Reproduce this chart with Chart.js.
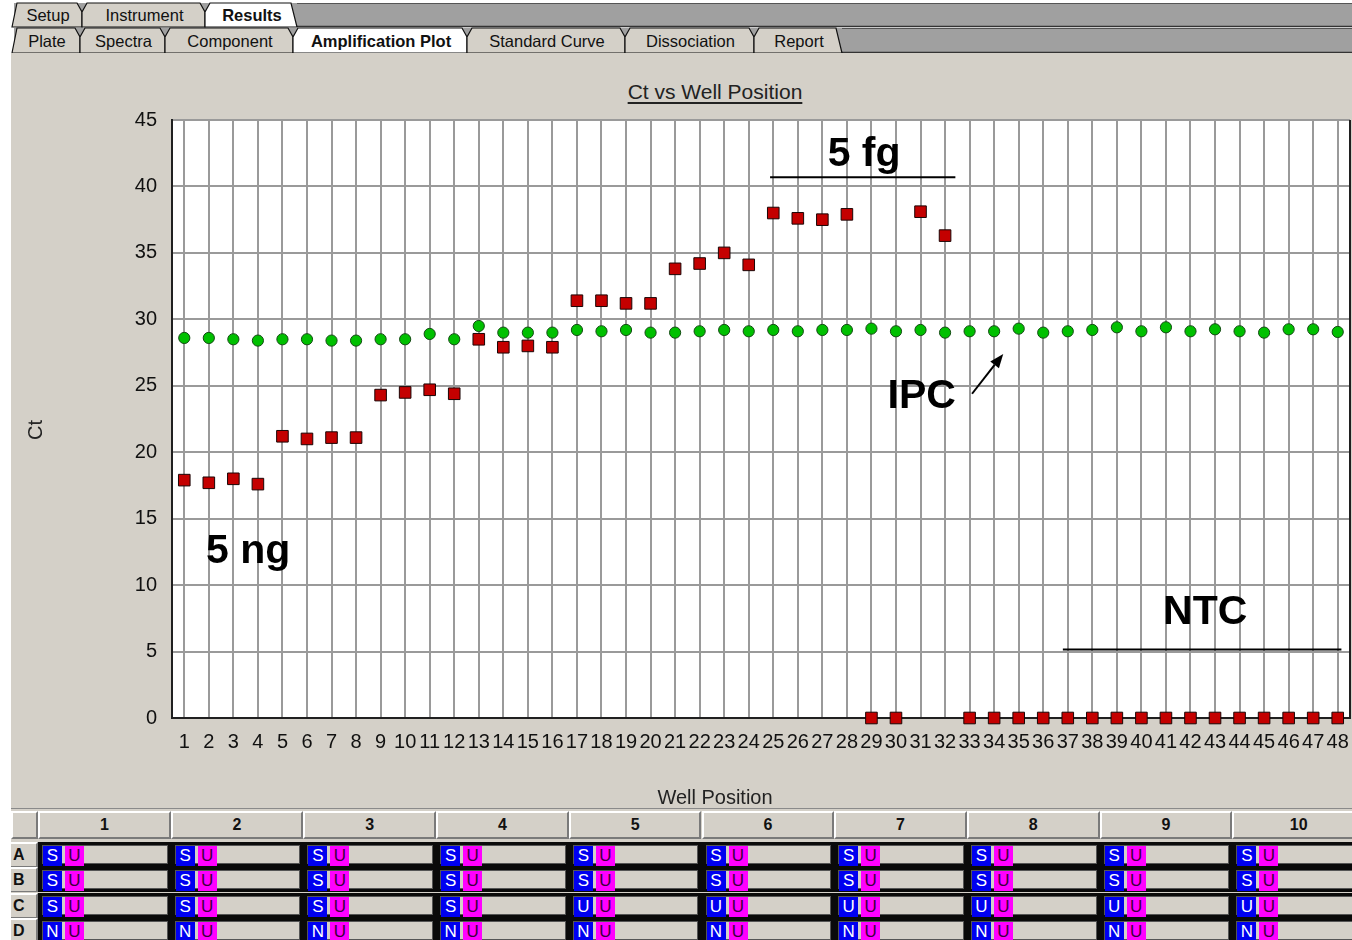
<!DOCTYPE html>
<html>
<head>
<meta charset="utf-8">
<title>Ct vs Well Position</title>
<script src="https://cdn.jsdelivr.net/npm/chart.js@4.4.1/dist/chart.umd.min.js"></script>
<style>
  html, body { margin: 0; padding: 0; width: 1352px; height: 940px; overflow: hidden; background: #ffffff; }
  body { position: relative; font-family: "Liberation Sans", Arial, sans-serif; color: #111; }
  #tabs { position: absolute; left: 0; top: 0; }
  #panel { position: absolute; left: 11px; top: 53px; width: 1341px; height: 755px; background: #D4D0C8; }
  #plot { position: absolute; left: 10px; top: 60px; }
  #title { position: absolute; left: 515px; top: 80px; width: 400px; text-align: center;
           font-size: 21px; color: #222; text-decoration: underline; text-underline-offset: 3px; }
  #xtitle { position: absolute; left: 515px; top: 786px; width: 400px; text-align: center; font-size: 20px; color: #222; }
  #ytitle { position: absolute; left: 15px; top: 418px; width: 40px; text-align: center; font-size: 20px; color: #222;
            transform: rotate(-90deg); transform-origin: 20px 12px; line-height: 24px; }
  #plate { position: absolute; left: 11px; top: 808px; width: 1341px; height: 132px; background: #D4D0C8;
           border-top: 1px solid #8a8a8a; overflow: hidden; }
  .hdr { position: absolute; top: 2px; height: 28px; box-sizing: border-box; background: #D4D0C8;
         border-top: 2px solid #ffffff; border-left: 2px solid #ffffff; border-right: 2px solid #7a7a7a; border-bottom: 2px solid #7a7a7a;
         font-weight: bold; font-size: 16px; text-align: center; line-height: 24px; }
  .rowlab { position: absolute; left: 0; width: 27px; height: 25px; box-sizing: border-box; background: #D4D0C8;
            border-top: 2px solid #ffffff; border-right: 2px solid #7a7a7a; border-bottom: 1px solid #7a7a7a;
            font-weight: bold; font-size: 16px; line-height: 22px; padding-left: 2px; }
  .band { position: absolute; left: 27px; right: 0; height: 25px; background: #0a0a0a; }
  .cell { position: absolute; height: 19px; box-sizing: border-box; background: #D4D0C8; border: 1px solid #555; }
  .tag { position: absolute; top: 0; width: 19px; height: 20px; font-size: 17px; line-height: 20px; text-align: center; }
  .tagA { background: #0000F0; color: #ffffff; }
  .tagB { background: #FF00FF; color: #3a003a; }
</style>
</head>
<body>
<svg id="tabs" width="1352" height="54"></svg>
<div id="panel"></div>
<div id="title">Ct vs Well Position</div>
<canvas id="plot" width="1342" height="750"></canvas>
<div id="xtitle">Well Position</div>
<div id="ytitle">Ct</div>
<div id="plate"></div>

<script>
// ---- Ct values per well (1..48) ----
const wells = ['1','2','3','4','5','6','7','8','9','10','11','12','13','14','15','16',
               '17','18','19','20','21','22','23','24','25','26','27','28','29','30','31','32',
               '33','34','35','36','37','38','39','40','41','42','43','44','45','46','47','48'];

// target assay (red squares): 5 ng ... 5 fg dilution series, then NTC wells
const ctTarget = [17.9, 17.7, 18.0, 17.6, 21.2, 21.0, 21.1, 21.1,
                  24.3, 24.5, 24.7, 24.4, 28.5, 27.9, 28.0, 27.9,
                  31.4, 31.4, 31.2, 31.2, 33.8, 34.2, 35.0, 34.1,
                  38.0, 37.6, 37.5, 37.9, 0, 0, 38.1, 36.3,
                  0, 0, 0, 0, 0, 0, 0, 0,
                  0, 0, 0, 0, 0, 0, 0, 0];

// internal positive control (green circles)
const ctIPC = [28.6, 28.6, 28.5, 28.4, 28.5, 28.5, 28.4, 28.4,
               28.5, 28.5, 28.9, 28.5, 29.5, 29.0, 29.0, 29.0,
               29.2, 29.1, 29.2, 29.0, 29.0, 29.1, 29.2, 29.1,
               29.2, 29.1, 29.2, 29.2, 29.3, 29.1, 29.2, 29.0,
               29.1, 29.1, 29.3, 29.0, 29.1, 29.2, 29.4, 29.1,
               29.4, 29.1, 29.25, 29.1, 29.0, 29.25, 29.25, 29.05];

const ctTicks = [0, 5, 10, 15, 20, 25, 30, 35, 40, 45];

// ---- plate layout (rows A-D, columns 1-10) ----
const plateCols = ['1','2','3','4','5','6','7','8','9','10'];
const plateRows = ['A','B','C','D'];
const plateTask = [
  ['S','S','S','S','S','S','S','S','S','S'],
  ['S','S','S','S','S','S','S','S','S','S'],
  ['S','S','S','S','U','U','U','U','U','U'],
  ['N','N','N','N','N','N','N','N','N','N']
];
const plateIPC = 'U';

// ---- tab strip ----
const tabRows = [
  { top: 3, bottom: 27, tabs: [['Setup', 12, 82], ['Instrument', 82, 205], ['Results', 205, 297]], active: 'Results' },
  { top: 28, bottom: 53, tabs: [['Plate', 12, 80], ['Spectra', 80, 165], ['Component', 165, 293],
      ['Amplification Plot', 293, 467], ['Standard Curve', 467, 625], ['Dissociation', 625, 754], ['Report', 754, 842]],
    active: 'Amplification Plot' }
];

(function drawTabs() {
  const svg = document.getElementById('tabs');
  const NS = 'http://www.w3.org/2000/svg';
  const el = (name, attrs, text) => {
    const e = document.createElementNS(NS, name);
    for (const k in attrs) e.setAttribute(k, attrs[k]);
    if (text) e.textContent = text;
    svg.appendChild(e);
    return e;
  };
  tabRows.forEach(row => {
    const h = row.bottom - row.top;
    const last = row.tabs[row.tabs.length - 1];
    el('rect', { x: 14, y: row.top, width: 1352 - 14, height: h, fill: '#A0A0A0' });
    el('line', { x1: last[2], y1: row.bottom - 0.5, x2: 1352, y2: row.bottom - 0.5, stroke: '#333', 'stroke-width': 1.5 });
    el('line', { x1: last[2], y1: row.top + 0.5, x2: 1352, y2: row.top + 0.5, stroke: '#555', 'stroke-width': 1 });
    const mid = row.top + 9;
    row.tabs.forEach(([name, x0, x1], i) => {
      const first = i === 0, isLast = i === row.tabs.length - 1;
      const pts = [];
      if (first) { pts.push([x0, row.bottom], [x0 + 5, row.top]); }
      else { pts.push([x0, row.bottom], [x0, mid], [x0 + 5, row.top]); }
      if (isLast) { pts.push([x1 - 6, row.top], [x1, row.bottom]); }
      else { pts.push([x1 - 5, row.top], [x1, mid], [x1, row.bottom]); }
      const on = name === row.active;
      el('polygon', { points: pts.map(p => p.join(',')).join(' '), fill: on ? '#ffffff' : '#D4D0C8',
                      stroke: '#111', 'stroke-width': 1.2 });
      el('text', { x: (x0 + x1) / 2 + 1, y: row.bottom - 6, 'text-anchor': 'middle',
                   'font-family': 'Liberation Sans, Arial, sans-serif', 'font-size': 16.5,
                   'font-weight': on ? 'bold' : 'normal', fill: '#111' }, name);
    });
  });
})();

(function drawPlate() {
  const host = document.getElementById('plate');
  const colLeft = c => 27 + c * 132.7;
  const colW = 132.7;
  const corner = document.createElement('div');
  corner.className = 'hdr';
  corner.style.left = '0px'; corner.style.width = '27px';
  host.appendChild(corner);
  plateCols.forEach((c, i) => {
    const d = document.createElement('div');
    d.className = 'hdr';
    d.style.left = colLeft(i) + 'px';
    d.style.width = colW + 'px';
    d.textContent = c;
    host.appendChild(d);
  });
  plateRows.forEach((r, ri) => {
    const top = 33 + ri * 25.3;
    const lab = document.createElement('div');
    lab.className = 'rowlab';
    lab.style.top = top + 'px';
    lab.textContent = r;
    host.appendChild(lab);
    const band = document.createElement('div');
    band.className = 'band';
    band.style.top = top + 'px';
    host.appendChild(band);
    plateCols.forEach((c, ci) => {
      const cell = document.createElement('div');
      cell.className = 'cell';
      cell.style.left = (colLeft(ci) + 4) + 'px';
      cell.style.top = (top + 3) + 'px';
      cell.style.width = (colW - 7) + 'px';
      const a = document.createElement('div');
      a.className = 'tag tagA'; a.style.left = '0px'; a.textContent = plateTask[ri][ci];
      const b = document.createElement('div');
      b.className = 'tag tagB'; b.style.left = '22px'; b.textContent = plateIPC;
      cell.appendChild(a); cell.appendChild(b);
      host.appendChild(cell);
    });
  });
})();

// ---- annotation labels drawn on the plot, placed in data units ----
const notes = {
  texts: [
    { text: '5 fg', well: 28.7, ct: 42.4 },
    { text: 'IPC',  well: 31.05, ct: 24.15 },
    { text: '5 ng', well: 3.6,  ct: 12.5 },
    { text: 'NTC',  well: 42.6, ct: 7.9 }
  ],
  rules: [
    { from: 24.87, to: 32.42, ct: 40.7 },
    { from: 36.8,  to: 48.15, ct: 5.15 }
  ],
  arrow: { from: [33.1, 24.4], to: [34.37, 27.4] }
};

const plotFrame = {
  id: 'plotFrame',
  beforeDraw(chart) {
    const { ctx, chartArea: a } = chart;
    ctx.save();
    ctx.fillStyle = '#ffffff';
    ctx.fillRect(a.left, a.top, a.right - a.left, a.bottom - a.top);
    ctx.restore();
  },
  afterDraw(chart) {
    const { ctx, chartArea: a, scales: { x, y } } = chart;
    ctx.save();
    ctx.strokeStyle = '#202020';
    ctx.lineWidth = 2;
    ctx.beginPath();
    ctx.moveTo(a.right, a.top); ctx.lineTo(a.right, a.bottom);
    ctx.stroke();

    const px = w => x.getPixelForValue(w - 1);
    ctx.fillStyle = '#000';
    ctx.font = 'bold 41px "Liberation Sans", Arial, sans-serif';
    ctx.textAlign = 'center';
    ctx.textBaseline = 'middle';
    notes.texts.forEach(n => ctx.fillText(n.text, px(n.well), y.getPixelForValue(n.ct)));

    ctx.strokeStyle = '#000';
    ctx.lineWidth = 2;
    notes.rules.forEach(r => {
      const yy = y.getPixelForValue(r.ct);
      ctx.beginPath(); ctx.moveTo(px(r.from), yy); ctx.lineTo(px(r.to), yy); ctx.stroke();
    });

    const x0 = px(notes.arrow.from[0]), y0 = y.getPixelForValue(notes.arrow.from[1]);
    const x1 = px(notes.arrow.to[0]),   y1 = y.getPixelForValue(notes.arrow.to[1]);
    const ang = Math.atan2(y1 - y0, x1 - x0);
    const head = 14, half = 5.5;
    const bx = x1 - head * Math.cos(ang), by = y1 - head * Math.sin(ang);
    ctx.beginPath(); ctx.moveTo(x0, y0); ctx.lineTo(bx, by); ctx.stroke();
    ctx.beginPath();
    ctx.moveTo(x1, y1);
    ctx.lineTo(bx + half * Math.sin(ang), by - half * Math.cos(ang));
    ctx.lineTo(bx - half * Math.sin(ang), by + half * Math.cos(ang));
    ctx.closePath(); ctx.fill();
    ctx.restore();
  }
};

const tickFont = { family: '"Liberation Sans Narrow", "Arial Narrow", "Liberation Sans", Arial, sans-serif', size: 20 };

new Chart(document.getElementById('plot'), {
  type: 'line',
  data: {
    labels: wells,
    datasets: [
      { label: 'Target', data: ctTarget, showLine: false, clip: false,
        pointStyle: 'rect', pointRadius: 8.2, pointBackgroundColor: '#C40000',
        pointBorderColor: '#1a0505', pointBorderWidth: 1 },
      { label: 'IPC', data: ctIPC, showLine: false, clip: false,
        pointStyle: 'circle', pointRadius: 5.6, pointBackgroundColor: '#00C000',
        pointBorderColor: '#134a13', pointBorderWidth: 1 }
    ]
  },
  options: {
    responsive: false,
    animation: false,
    devicePixelRatio: 1,
    events: [],
    layout: { autoPadding: false, padding: { left: 0, top: 60, right: 2, bottom: 0 } },
    plugins: { legend: { display: false }, tooltip: { enabled: false }, title: { display: false } },
    scales: {
      x: {
        type: 'category',
        offset: true,
        grid: { color: '#9a9a9a', lineWidth: 2, drawTicks: false, offset: false },
        border: { color: '#202020', width: 2 },
        ticks: { autoSkip: false, maxRotation: 0, minRotation: 0, padding: 12, color: '#111', font: tickFont },
        afterFit(s) { s.height = 92; s.paddingLeft = 0; s.paddingRight = 0; }
      },
      y: {
        min: 0, max: 45,
        afterBuildTicks(s) { s.ticks = ctTicks.map(v => ({ value: v })); },
        grid: { color: '#9a9a9a', lineWidth: 2, drawTicks: false },
        border: { color: '#202020', width: 2 },
        ticks: { padding: 15, color: '#111', font: tickFont },
        afterFit(s) { s.width = 162; s.paddingTop = 0; s.paddingBottom = 0; }
      }
    }
  },
  plugins: [plotFrame]
});
</script>
</body>
</html>
